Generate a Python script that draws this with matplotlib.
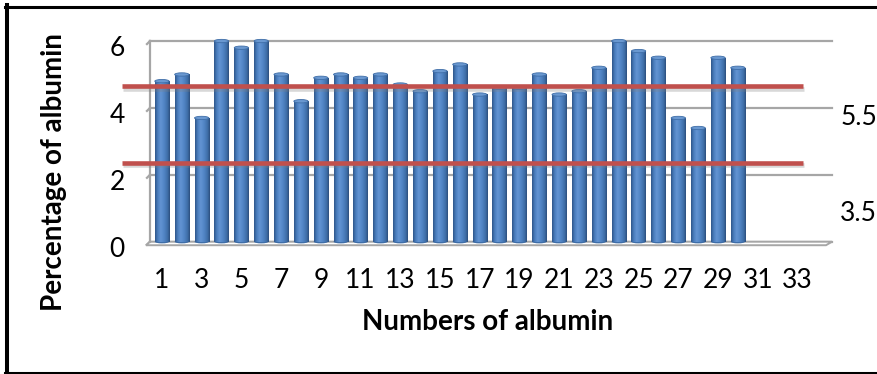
import numpy as np
import matplotlib
matplotlib.use('Agg')
from matplotlib import pyplot as plt
from matplotlib import patheffects, transforms
from matplotlib.colors import LinearSegmentedColormap
from matplotlib.patches import Ellipse, Polygon
from matplotlib.lines import Line2D

plt.rcParams['font.family'] = ['Lato', 'DejaVu Sans']

# albumin (g/dl) for each sample
samples = list(range(1, 31))
albumin = [4.8, 5.0, 3.7, 6.0, 5.8, 6.0, 5.0, 4.2, 4.9, 5.0,
           4.9, 5.0, 4.7, 4.5, 5.1, 5.3, 4.4, 4.6, 4.6, 5.0,
           4.4, 4.5, 5.2, 6.0, 5.7, 5.5, 3.7, 3.4, 5.5, 5.2]
categories = list(range(1, 34))
xticks = categories[::2]
xtick_labels = [str(c) for c in xticks]
yticks = [0, 2, 4, 6]
ytick_labels = ['0', '2', '4', '6']
# normal range limits
ref_values = [5.5, 3.5]
ref_labels = ['5.5', '3.5']

fig = plt.figure(figsize=(8.78, 3.74), dpi=100)
ax = fig.add_axes([0.1708, 0.3537, 0.7768, 0.5366])

# cylinder shading, dark edges and a highlight left of centre
bar_cmap = LinearSegmentedColormap.from_list(
    'cyl', [(0.0, '#2f568a'), (0.18, '#4a7dbd'), (0.38, '#6394d3'),
            (0.6, '#5286c6'), (0.85, '#3f6ea8'), (1.0, '#2c4f7e')])
grad = np.linspace(0, 1, 64).reshape(1, -1)
w = 0.72

for x, v in zip(samples, albumin):
    ax.imshow(grad, extent=(x - w / 2, x + w / 2, 0, v), aspect='auto',
              cmap=bar_cmap, interpolation='bilinear', zorder=3)
    ax.add_patch(Ellipse((x, 0), w, 0.1, facecolor='#3f6ea8',
                         edgecolor='none', zorder=2.9, clip_on=False))
    ax.add_patch(Ellipse((x, v), w, 0.1, facecolor='#6a98d0',
                         edgecolor='#3f6ea8', lw=0.6, zorder=4, clip_on=False))

ax.set_xlim(0.396, 34.74)
ax.set_ylim(0, 6)

# back wall gridlines with little corner at the left wall
blend = transforms.blended_transform_factory(ax.transAxes, ax.transData)
for v in yticks:
    ax.axhline(v, color='#a6a6a6', lw=1.6, zorder=1, clip_on=False)
    ax.plot([0, -0.0044], [v, v - 0.09], color='#a6a6a6', lw=1.6,
            transform=blend, clip_on=False, zorder=1)

for s in ['top', 'right', 'bottom']:
    ax.spines[s].set_visible(False)
ax.spines['left'].set_color('#a6a6a6')
ax.spines['left'].set_linewidth(1.6)

# thin floor slab
floor = Polygon([(0, 0), (1, 0), (1 - 6 / 682, -0.0175), (-4 / 682, -0.0175)],
                closed=True, transform=ax.transAxes, facecolor='white',
                edgecolor='#a6a6a6', lw=1.4, clip_on=False, zorder=2)
ax.add_patch(floor)

ax.set_xticks(xticks)
ax.set_xticklabels(xtick_labels)
ax.set_yticks(yticks)
ax.set_yticklabels(ytick_labels)
ax.tick_params(axis='both', length=0, labelsize=19)
ax.tick_params(axis='x', pad=19)
ax.tick_params(axis='y', pad=18)
shift = transforms.ScaledTranslation(0, -0.05, fig.dpi_scale_trans)
for lab in ax.get_yticklabels():
    lab.set_transform(lab.get_transform() + shift)

# reference range drawn on its own scale
ax2 = ax.twinx()
ax2.set_ylim(1.43, 6.68)
ax2.axis('off')
rtrans = transforms.blended_transform_factory(ax2.transAxes, ax2.transData)
for v in ref_values:
    ax2.plot([-0.041, 0.957], [v, v], color='#c0504d', lw=3.3,
             solid_capstyle='butt', transform=rtrans, clip_on=False,
             path_effects=[patheffects.SimpleLineShadow(offset=(1, -2), shadow_color='#808080', alpha=0.3),
                           patheffects.Normal()])
for lab, yy in zip(ref_labels, [0.621, 0.143]):
    ax.text(1.012, yy, lab, transform=ax.transAxes, ha='left', va='center',
            fontsize=19)

fig.text(488 / 878, 1 - 322 / 374, 'Numbers of albumin', ha='center',
         va='center', fontsize=20, fontweight='bold')
fig.text(54 / 878, 1 - 172 / 374, 'Percentage of albumin', ha='center',
         va='center', rotation=90, fontsize=20, fontweight='bold')

# frame round the chart
fig.add_artist(Line2D([7 / 878, 7 / 878], [0, 1 - 5 / 374], transform=fig.transFigure,
                      color='black', lw=2.9))
fig.add_artist(Line2D([5 / 878, 1], [1 - 6.5 / 374, 1 - 6.5 / 374], transform=fig.transFigure,
                      color='black', lw=2.2))
fig.add_artist(Line2D([5 / 878, 1], [1.5 / 374, 1.5 / 374], transform=fig.transFigure,
                      color='black', lw=2.2))

fig.savefig('out.png', dpi=100)
